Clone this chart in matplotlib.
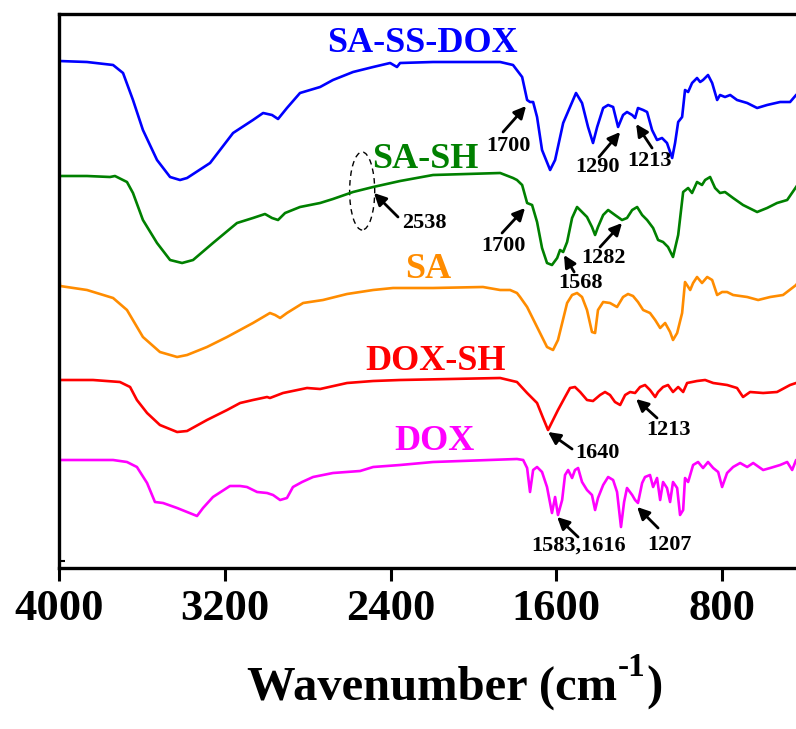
import numpy as np
import matplotlib
matplotlib.use("Agg")
import matplotlib.pyplot as plt
from matplotlib.patches import Ellipse

# FTIR spectra, wavenumber (cm-1) and stacked transmittance (a.u.)
sa_ss_dox_wn = [4000, 3865, 3739, 3691, 3643, 3595, 3527, 3464, 3416, 3382, 3271, 3160, 3064, 3015,
                2972, 2943, 2900, 2837, 2740, 2678, 2581, 2484, 2402, 2369, 2354, 2195, 1871, 1809,
                1765, 1741, 1727, 1712, 1693, 1669, 1630, 1606, 1567, 1505, 1476, 1447, 1423, 1403,
                1374, 1350, 1326, 1302, 1278, 1259, 1234, 1220, 1206, 1181, 1162, 1138, 1114, 1090,
                1066, 1041, 1027, 1012, 993, 979, 964, 945, 921, 906, 892, 868, 848, 824, 810, 786,
                761, 728, 679, 631, 583, 520, 472, 443, 420]
sa_ss_dox_t = [507, 506, 503, 495, 468, 438, 408, 391, 388, 390, 405, 435, 448, 455,
               453, 449, 460, 475, 481, 488, 496, 501, 505, 501, 505, 506, 506, 503,
               491, 468, 466, 466, 451, 418, 398, 408, 445, 475, 465, 441, 425, 441,
               460, 463, 461, 441, 453, 456, 453, 450, 460, 458, 456, 438, 428, 430,
               425, 410, 425, 446, 451, 478, 476, 485, 490, 486, 488, 493, 485, 468, 473, 471,
               473, 468, 465, 460, 463, 466, 466, 473, 477]

sa_sh_wn = [4000, 3865, 3754, 3730, 3672, 3643, 3595, 3527, 3464, 3406, 3353, 3257, 3141, 3064,
            3006, 2972, 2943, 2909, 2837, 2740, 2678, 2581, 2484, 2354, 2195, 1871, 1809, 1790,
            1765, 1741, 1717, 1693, 1669, 1645, 1621, 1596, 1582, 1567, 1548, 1524, 1500, 1476,
            1452, 1428, 1413, 1399, 1374, 1350, 1317, 1283, 1259, 1234, 1210, 1186, 1162, 1133,
            1109, 1085, 1061, 1037, 1012, 988, 964, 945, 921, 897, 882, 858, 834, 810, 786, 747,
            699, 631, 583, 535, 486, 443, 420]
sa_sh_t = [392, 392, 391, 392, 386, 375, 348, 325, 308, 305, 308, 325, 345, 350,
           354, 350, 348, 355, 361, 365, 369, 376, 381, 387, 393, 395, 390, 388,
           383, 365, 363, 346, 320, 305, 303, 310, 318, 316, 326, 350, 361, 356,
           351, 341, 333, 341, 353, 358, 353, 348, 350, 358, 361, 353, 348, 340,
           328, 326, 321, 311, 333, 376, 380, 375, 386, 383, 388, 391, 380, 375, 376, 370,
           363, 356, 360, 365, 368, 381, 388]

sa_wn = [4000, 3995, 3865, 3739, 3672, 3595, 3513, 3430, 3382, 3286, 3189, 3064, 2982, 2957,
         2933, 2900, 2822, 2726, 2610, 2484, 2388, 2195, 1954, 1871, 1823, 1790, 1775, 1741,
         1693, 1645, 1616, 1592, 1548, 1524, 1500, 1476, 1452, 1428, 1413, 1399, 1374, 1341,
         1307, 1278, 1254, 1230, 1206, 1181, 1148, 1123, 1099, 1075, 1051, 1037, 1017, 993,
         979, 954, 940, 921, 897, 872, 848, 824, 800, 776, 747, 679, 626, 568, 506, 443, 420]
sa_t = [296, 282, 278, 270, 258, 231, 216, 211, 213, 221, 231, 245, 255, 253,
        250, 255, 265, 268, 274, 278, 280, 280, 281, 278, 278, 275, 271, 261,
        241, 221, 218, 228, 265, 273, 275, 271, 258, 236, 235, 258, 266, 265,
        261, 271, 274, 272, 266, 258, 255, 248, 240, 245, 236, 228, 235, 255,
        286, 278, 285, 291, 285, 291, 288, 273, 276, 276, 273, 271, 268, 271, 273, 283, 290]

dox_sh_wn = [4000, 3836, 3706, 3657, 3624, 3575, 3513, 3430, 3382, 3286, 3189, 3126, 3064, 2996,
             2982, 2919, 2803, 2740, 2610, 2484, 2354, 1871, 1790, 1741, 1693, 1664, 1640, 1616,
             1592, 1558, 1534, 1510, 1485, 1452, 1423, 1389, 1365, 1341, 1317, 1292, 1268, 1244,
             1220, 1196, 1172, 1148, 1123, 1109, 1085, 1061, 1037, 1012, 988, 969, 921, 882, 843,
             776, 728, 699, 665, 602, 535, 472, 443, 420]
dox_sh_t = [188, 188, 186, 181, 168, 155, 143, 136, 137, 148, 158, 165, 168, 171,
            170, 175, 180, 179, 185, 187, 188, 190, 186, 175, 165, 150, 138, 148,
            158, 171, 180, 181, 176, 168, 167, 173, 176, 173, 166, 163, 173, 176,
            175, 181, 183, 178, 171, 176, 181, 183, 176, 181, 176, 185, 187, 188, 185,
            183, 180, 171, 176, 175, 176, 183, 185, 187]

dox_wn = [4000, 3739, 3672, 3624, 3575, 3537, 3498, 3430, 3382, 3334, 3305, 3257, 3175, 3126,
          3093, 3044, 2996, 2967, 2933, 2900, 2871, 2827, 2774, 2678, 2547, 2484, 2354, 2195,
          1790, 1760, 1741, 1727, 1712, 1693, 1669, 1645, 1621, 1606, 1592, 1572, 1558, 1543,
          1524, 1510, 1495, 1476, 1452, 1428, 1413, 1399, 1374, 1350, 1326, 1307, 1288, 1273,
          1259, 1234, 1220, 1206, 1186, 1172, 1148, 1133, 1114, 1099, 1085, 1066, 1051, 1037,
          1017, 1003, 988, 979, 964, 940, 916, 892, 868, 843, 819, 800, 776, 747, 713, 679,
          650, 602, 568, 520, 486, 462, 443, 420]
dox_t = [108, 108, 106, 101, 85, 66, 65, 60, 56, 52, 60, 71, 82, 82,
         81, 76, 75, 73, 68, 70, 81, 86, 91, 95, 97, 101, 103, 106,
         109, 108, 100, 76, 98, 101, 96, 81, 55, 71, 53, 68, 93, 98,
         90, 98, 100, 86, 78, 73, 58, 70, 83, 91, 88, 76, 41, 66,
         80, 73, 68, 65, 85, 91, 93, 81, 90, 68, 86, 80, 66, 86,
         80, 53, 58, 90, 86, 103, 106, 100, 106, 100, 96, 81, 95, 101, 105, 101,
         105, 98, 100, 103, 106, 98, 108, 108]

names = ["SA-SS-DOX", "SA-SH", "SA", "DOX-SH", "DOX"]
colors = ["#0000FF", "#008000", "#FF8C00", "#FF0000", "#FF00FF"]
series = [(sa_ss_dox_wn, sa_ss_dox_t), (sa_sh_wn, sa_sh_t), (sa_wn, sa_t),
          (dox_sh_wn, dox_sh_t), (dox_wn, dox_t)]
# where each curve name sits (wavenumber, level)
label_pos = [(2248, 525), (2234, 408), (2219, 298), (2185, 206), (2190, 126)]

# peak labels: text, text position, arrow tail, arrow head
peaks = [
    ("1700", (1833, 422), (1857, 436), (1746, 462)),
    ("1290", (1403, 401), (1394, 411), (1292, 436)),
    ("1213", (1152, 407), (1138, 420), (1215, 444)),
    ("2538", (2238, 345), (2364, 351), (2480, 375)),
    ("1700", (1857, 322), (1862, 335), (1751, 360)),
    ("1568", (1485, 285), (1514, 296), (1563, 313)),
    ("1282", (1374, 310), (1389, 321), (1283, 345)),
    ("1640", (1403, 115), (1524, 119), (1640, 136)),
    ("1213", (1061, 138), (1114, 150), (1215, 169)),
    ("1583,1616", (1495, 22), (1495, 31), (1596, 51)),
    ("1207", (1056, 23), (1109, 40), (1210, 61)),
]

plt.rcParams['font.family'] = ['Liberation Serif', 'DejaVu Serif']
plt.rcParams['font.weight'] = 'bold'

fig = plt.figure(figsize=(7.96, 7.29), dpi=100)
ax = fig.add_axes([59 / 796, 161 / 729, 746 / 796, 554 / 729])

for (wn, t), c in zip(series, colors):
    ax.plot(wn, t, color=c, lw=1.9, solid_joinstyle='round')

for name, c, (x, y) in zip(names, colors, label_pos):
    ax.text(x, y, name, color=c, fontsize=26, fontweight='bold', ha='center', va='center')

for txt, tp, tail, head in peaks:
    ax.text(tp[0], tp[1], txt, fontsize=16, fontweight='bold', ha='center', va='center')
    ax.annotate('', xy=head, xytext=tail,
                arrowprops=dict(arrowstyle='-|>', color='black', lw=2.0,
                                mutation_scale=18, shrinkA=0, shrinkB=0))

ax.add_patch(Ellipse((2537, 377), 121, 78, fill=False, ls=(0, (4, 3)), lw=1.0, color='black'))

ax.set_xlim(4000, 400)
ax.set_ylim(0, 554)
ax.set_xticks([4000, 3200, 2400, 1600, 800])
ax.set_yticks([7])
ax.set_yticklabels([])
ax.tick_params(axis='x', direction='out', length=9, width=2.2, labelsize=32, pad=6)
ax.tick_params(axis='y', direction='in', length=4, width=1.5)
for lab in ax.get_xticklabels():
    lab.set_fontweight('bold')
for sp in ax.spines.values():
    sp.set_linewidth(2.4)

# axis title, with a plain hyphen in the superscript as in the source figure
t1 = fig.text(0, 0, 'Wavenumber (cm', fontsize=35, fontweight='bold')
t2 = fig.text(0, 0, '-1', fontsize=24, fontweight='bold')
t3 = fig.text(0, 0, ')', fontsize=35, fontweight='bold')
fig.canvas.draw()
r = fig.canvas.get_renderer()
w1 = t1.get_window_extent(r).width
w2 = t2.get_window_extent(r).width
w3 = t3.get_window_extent(r).width
x0 = 454 - (w1 + w2 + w3) / 2
base = 729 - 700
t1.set_position((x0 / 796, base / 729))
t2.set_position(((x0 + w1 + 1) / 796, (base + 24) / 729))
t3.set_position(((x0 + w1 + w2 + 2) / 796, base / 729))

fig.savefig("out.png", dpi=100)
